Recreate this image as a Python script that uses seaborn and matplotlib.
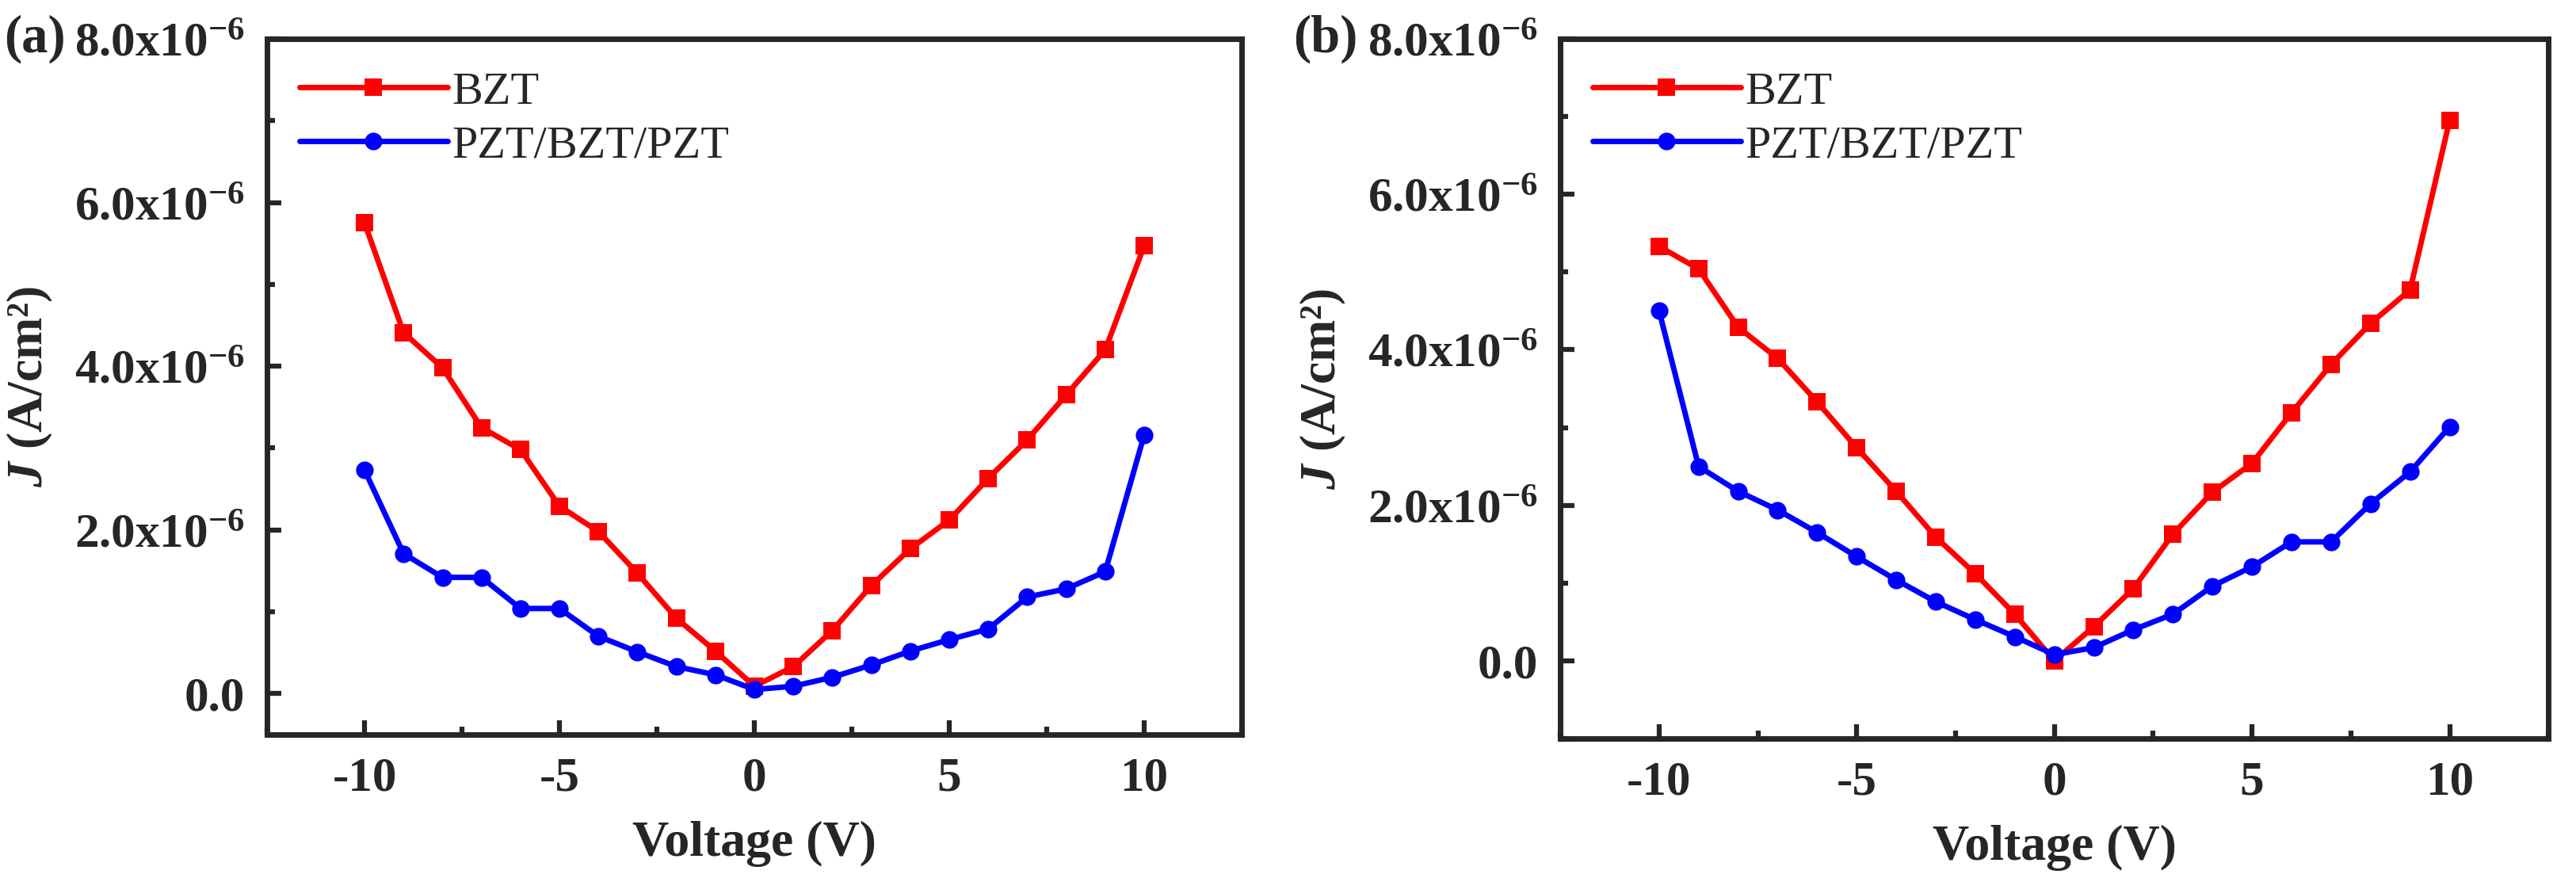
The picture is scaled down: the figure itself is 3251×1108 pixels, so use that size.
import numpy as np
import pandas as pd
import seaborn as sns
import matplotlib
matplotlib.use("Agg")
import matplotlib.pyplot as plt
from matplotlib.ticker import MultipleLocator, FuncFormatter

# Voltage sweep (V)
voltage = [-10, -9, -8, -7, -6, -5, -4, -3, -2, -1, 0, 1, 2, 3, 4, 5, 6, 7, 8, 9, 10]

# (a) leakage current density, units of 1e-6 A/cm^2
a_bzt = [5.75, 4.41, 3.98, 3.25, 2.98, 2.29, 1.98, 1.47, 0.92, 0.52, 0.09,
         0.33, 0.77, 1.32, 1.77, 2.12, 2.63, 3.10, 3.65, 4.20, 5.47]
a_pbp = [2.73, 1.71, 1.42, 1.42, 1.04, 1.04, 0.70, 0.51, 0.33, 0.23, 0.05,
         0.09, 0.20, 0.35, 0.52, 0.66, 0.79, 1.18, 1.28, 1.49, 3.16]

# (b)
b_bzt = [5.33, 5.04, 4.29, 3.89, 3.33, 2.74, 2.18, 1.59, 1.12, 0.60, 0.00,
         0.44, 0.93, 1.63, 2.17, 2.54, 3.19, 3.81, 4.34, 4.77, 6.95]
b_pbp = [4.50, 2.50, 2.18, 1.94, 1.65, 1.34, 1.04, 0.76, 0.53, 0.31, 0.08,
         0.17, 0.40, 0.60, 0.96, 1.21, 1.53, 1.53, 2.02, 2.43, 3.01]

samples = ["BZT", "PZT/BZT/PZT"]
panel_labels = ["(a)", "(b)"]
y_bottoms = [-0.5e-6, -1.0e-6]

sns.set_style("ticks")
plt.rcParams["font.family"] = ["Liberation Serif", "DejaVu Serif"]
plt.rcParams["font.weight"] = "bold"
plt.rcParams["axes.unicode_minus"] = False
plt.rcParams["mathtext.fontset"] = "custom"
plt.rcParams["mathtext.rm"] = "Liberation Serif:bold"
plt.rcParams["mathtext.bf"] = "Liberation Serif:bold"
plt.rcParams["mathtext.it"] = "Liberation Serif:italic:bold"
plt.rcParams["mathtext.default"] = "rm"


def make_df(bzt, pbp):
    rows = []
    for name, vals in zip(samples, [bzt, pbp]):
        for v, j in zip(voltage, vals):
            rows.append({"Voltage": v, "J": j * 1e-6, "Sample": name})
    return pd.DataFrame(rows)


def ytick_fmt(v, pos):
    if abs(v) < 1e-12:
        return "0.0"
    return "%.1fx10$^{-6}$" % (v * 1e6)


fig = plt.figure(figsize=(32.51, 11.08), dpi=100)
positions = [[0.1037, 0.1634, 0.3783, 0.7924],
             [0.6057, 0.1588, 0.3836, 0.7970]]
datasets = [make_df(a_bzt, a_pbp), make_df(b_bzt, b_pbp)]

for k in range(2):
    ax = fig.add_axes(positions[k])
    sns.lineplot(data=datasets[k], x="Voltage", y="J", hue="Sample", style="Sample",
                 palette=["#ff0000", "#0000ff"], markers=["s", "o"], dashes=False,
                 linewidth=5, markersize=16, markeredgewidth=0, ax=ax)

    ax.set_xlim(-12.5, 12.5)
    ax.set_ylim(y_bottoms[k], 8e-6)
    ax.xaxis.set_major_locator(MultipleLocator(5))
    ax.xaxis.set_minor_locator(MultipleLocator(2.5))
    ax.yaxis.set_major_locator(MultipleLocator(2e-6))
    ax.yaxis.set_minor_locator(MultipleLocator(1e-6))
    ax.yaxis.set_major_formatter(FuncFormatter(ytick_fmt))

    for s in ax.spines.values():
        s.set_linewidth(5)
        s.set_visible(True)
    ax.tick_params(which="major", direction="in", length=13, width=4.5,
                   labelsize=44, pad=20)
    ax.tick_params(which="minor", direction="in", length=7, width=4.5)
    for lab in ax.get_xticklabels() + ax.get_yticklabels():
        lab.set_fontweight("bold")

    ax.set_xlabel("Voltage (V)", fontsize=46, fontweight="bold", labelpad=18)
    ax.set_ylabel(r"$\mathit{J}$ (A/cm²)", fontsize=46, fontweight="bold", labelpad=18)

    leg = ax.legend(loc="upper left", frameon=False, handlelength=3.2,
                    handletextpad=0.1, labelspacing=0.25, borderaxespad=0.3,
                    prop={"family": "Liberation Serif", "weight": "normal", "size": 42})
    for h in leg.legend_handles:
        h.set_linewidth(5)
        h.set_markersize(16)

    ax.text(-0.27, 1.0, panel_labels[k], transform=ax.transAxes, fontsize=48,
            fontweight="bold", ha="left", va="center")

fig.savefig("out.png", dpi=100)
